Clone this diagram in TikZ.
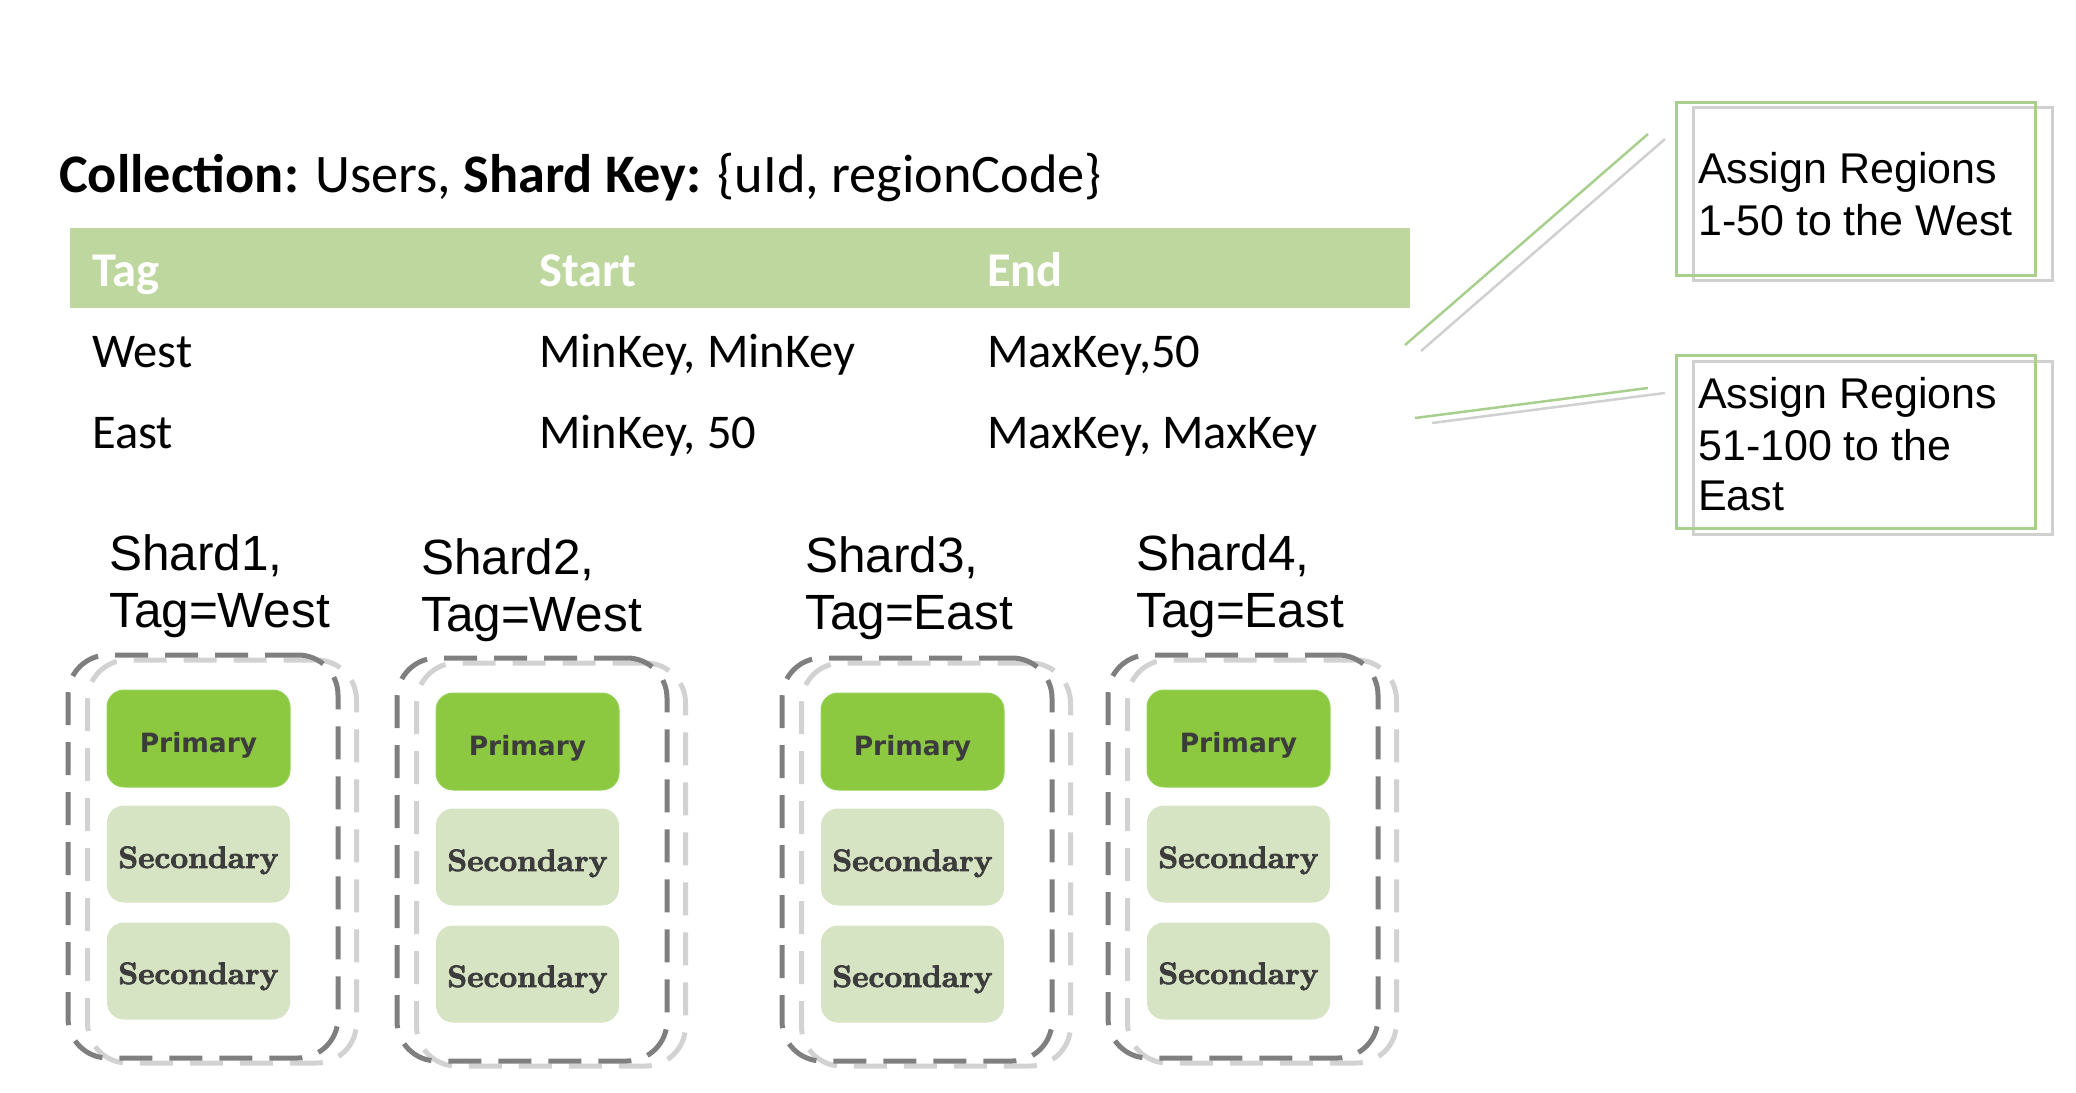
\documentclass[tikz,border=0pt]{standalone}
\usepackage{fontspec}
\newfontfamily\calibri{Carlito}
\newfontfamily\arialf{Liberation Sans}
\newfontfamily\verd{DejaVu Sans}
\newfontfamily\heavyserif{lmroman10-bold.otf}[FakeBold=2.5]
\definecolor{headgreen}{RGB}{189,215,158}
\definecolor{callgreen}{RGB}{169,207,142}
\definecolor{callgray}{RGB}{208,208,208}
\definecolor{primgreen}{RGB}{140,200,64}
\definecolor{primedge}{RGB}{150,210,90}
\definecolor{secgreen}{RGB}{215,228,196}
\definecolor{darkdash}{RGB}{127,127,127}
\definecolor{lightdash}{RGB}{210,210,210}
\definecolor{boxtext}{RGB}{60,60,60}
\newcommand\shardgroup[3]{%
  \node[shardlight] (#1light) at ({#2+19+135},{#3+5+201.5}) {};
  \node[sharddark]  (#1) at ({#2+135},{#3+201.5}) {};
  \node[primarybox] (#1p) at ({#2+130.5},{#3+83.5}) {};
  \node[boxlabel, font=\verd\bfseries\fontsize{26.5}{30}\selectfont] (#1pt) at ({#2+130.5},{#3+97.5}) {Primary};
  \node[secondarybox] (#1s1) at ({#2+130.5},{#3+199}) {};
  \node[boxlabel, font=\heavyserif\fontsize{31}{34}\selectfont] (#1s1t) at ({#2+130.5},{#3+213}) {Secondary};
  \node[secondarybox] (#1s2) at ({#2+130.5},{#3+316}) {};
  \node[boxlabel, font=\heavyserif\fontsize{31}{34}\selectfont] (#1s2t) at ({#2+130.5},{#3+329}) {Secondary};
}
\begin{document}
\begin{tikzpicture}[x=1pt,y=-1pt,
  title/.style={anchor=base west, inner sep=0pt, font=\calibri\fontsize{54.3}{60}\selectfont},
  tabhead/.style={anchor=base west, inner sep=0pt, text=white, font=\calibri\bfseries\fontsize{48.5}{56}\selectfont},
  tabcell/.style={anchor=base west, inner sep=0pt, font=\calibri\fontsize{48.5}{56}\selectfont},
  shardlabel/.style={anchor=base west, inner sep=0pt, font=\arialf\fontsize{49.5}{56}\selectfont},
  calltext/.style={anchor=base west, inner sep=0pt, font=\arialf\fontsize{43}{50}\selectfont},
  callgreenbox/.style={draw=callgreen, line width=3pt, minimum width=359pt, minimum height=173pt, inner sep=0pt},
  callgraybox/.style={draw=callgray, line width=3pt, minimum width=359pt, minimum height=173pt, inner sep=0pt},
  leadgreen/.style={draw=callgreen, line width=2.5pt},
  leadgray/.style={draw=callgray, line width=2.5pt},
  headband/.style={fill=headgreen, minimum width=1340pt, minimum height=80pt, inner sep=0pt},
  sharddark/.style={draw=darkdash, line width=5pt, dash pattern=on 33pt off 17pt, rounded corners=40pt, minimum width=270pt, minimum height=403pt, inner sep=0pt},
  shardlight/.style={draw=lightdash, line width=5pt, dash pattern=on 33pt off 17pt, rounded corners=40pt, minimum width=269pt, minimum height=403pt, inner sep=0pt},
  primarybox/.style={fill=primgreen, draw=primedge, line width=1pt, rounded corners=17pt, minimum width=183pt, minimum height=97pt, inner sep=0pt},
  secondarybox/.style={fill=secgreen, rounded corners=17pt, minimum width=183pt, minimum height=97pt, inner sep=0pt},
  boxlabel/.style={anchor=base, inner sep=0pt, text=boxtext}
]
\useasboundingbox (0,0) rectangle (2076,1092);

% title
\node[title] (title) at (59,192) {{\bfseries Collection:} Users, {\bfseries Shard Key:} \{uId, regionCode\}};

% table
\node[headband] (header) at (740,268) {};
\node[tabhead] (hTag) at (92,286) {Tag};
\node[tabhead] (hStart) at (539,286) {Start};
\node[tabhead] (hEnd) at (987,286) {End};
\node[tabcell] (r1a) at (92,367) {West};
\node[tabcell] (r1b) at (539,367) {MinKey, MinKey};
\node[tabcell] (r1c) at (987,367) {MaxKey,50};
\node[tabcell] (r2a) at (92,448) {East};
\node[tabcell] (r2b) at (539,448) {MinKey, 50};
\node[tabcell] (r2c) at (987,448) {MaxKey, MaxKey};

% callouts
\node[callgraybox] (c1gray) at (1872.5,193.5) {};
\node[callgreenbox] (c1) at (1855.5,188.5) {};
\node[calltext] (c1t1) at (1698,183) {Assign Regions};
\node[calltext] (c1t2) at (1698,235) {1-50 to the West};
\node[callgraybox] (c2gray) at (1872.5,447.5) {};
\node[callgreenbox] (c2) at (1855.5,442) {};
\node[calltext] (c2t1) at (1698,408) {Assign Regions};
\node[calltext] (c2t2) at (1698,460) {51-100 to the};
\node[calltext] (c2t3) at (1698,510) {East};

\coordinate (l1a) at (1405,345);
\coordinate (l1b) at (1648,134);
\coordinate (l1c) at (1421,351);
\coordinate (l1d) at (1665,139);
\coordinate (l2a) at (1415,418);
\coordinate (l2b) at (1648,388);
\coordinate (l2c) at (1432,423);
\coordinate (l2d) at (1665,393);
\draw[leadgreen] (l1a) -- (l1b);
\draw[leadgray] (l1c) -- (l1d);
\draw[leadgreen] (l2a) -- (l2b);
\draw[leadgray] (l2c) -- (l2d);

% shard labels
\node[shardlabel] (s1l1) at (109,570) {Shard1,};
\node[shardlabel] (s1l2) at (109,627) {Tag=West};
\node[shardlabel] (s2l1) at (421,574) {Shard2,};
\node[shardlabel] (s2l2) at (421,631) {Tag=West};
\node[shardlabel] (s3l1) at (805,572) {Shard3,};
\node[shardlabel] (s3l2) at (805,629) {Tag=East};
\node[shardlabel] (s4l1) at (1136,570) {Shard4,};
\node[shardlabel] (s4l2) at (1136,627) {Tag=East};

% shards
\shardgroup{shardA}{68}{655}
\shardgroup{shardB}{397}{658}
\shardgroup{shardC}{782}{658}
\shardgroup{shardD}{1108}{655}
\end{tikzpicture}
\end{document}
